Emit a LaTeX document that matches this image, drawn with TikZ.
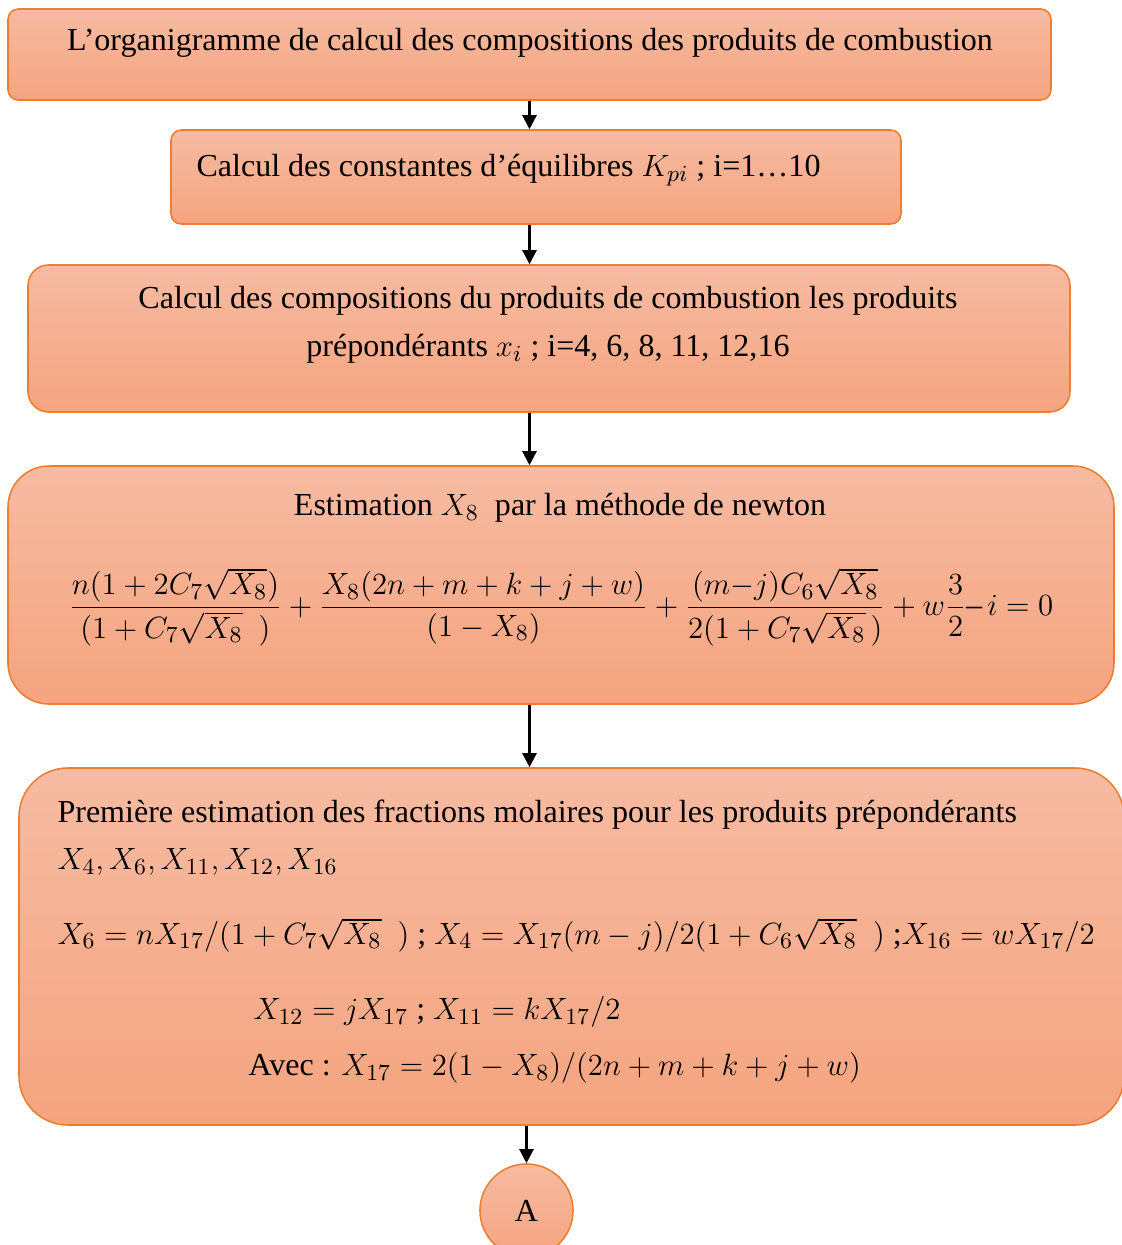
\documentclass[tikz,border=0pt]{standalone}
\usepackage{amsmath}
\usepackage{fontspec}
\setmainfont{Liberation Serif}
\usepackage{tikz}
\usetikzlibrary{arrows.meta, positioning, fit, shapes.geometric}

\definecolor{boxtop}{HTML}{F6BBA2}
\definecolor{boxbottom}{HTML}{F5A47F}
\definecolor{boxline}{HTML}{ED7D31}

\tikzset{
  box/.style={draw=boxline, line width=0.6pt, top color=boxtop, bottom color=boxbottom, inner sep=0pt},
  flow/.style={-{Triangle[width=5.5pt,length=5.5pt]}, line width=0.9pt},
  txt/.style={font=\fontsize{12.5}{15}\selectfont, inner sep=0pt}
}

\begin{document}
\begin{tikzpicture}[x=0.39pt, y=-0.39pt]
\useasboundingbox (0,0) rectangle (1122,1245);
% Boxes
\node[box, rounded corners=4pt, fit={(8,9) (1051,100)}] (org) {};
\node[box, rounded corners=4pt, fit={(171,130) (901,224)}] (kp) {};
\node[box, rounded corners=8pt, fit={(28,265) (1070,412)}] (comp) {};
\node[box, rounded corners=16pt, fit={(8,466) (1114,704)}] (newton) {};
\node[box, rounded corners=19pt, fit={(19,768) (1124,1125)}] (frac) {};
\node[box, circle, minimum size=36.3pt] (endA) at (526.5,1210.5) {};
% Texts
\node[txt] (t1) at (530,43) {L'organigramme de calcul des compositions des produits de combustion};
\node[txt, anchor=west] (t2) at (196,170) {Calcul des constantes d'équilibres $K_{pi}$ ; i=1…10};
\node[txt] (t3) at (548,301) {Calcul des compositions du produits de combustion les produits};
\node[txt] (t4) at (548,349) {prépondérants $x_i$ ; i=4, 6, 8, 11, 12,16};
\node[txt] (t5) at (560,508) {Estimation $X_8$\ \ par la méthode de newton};
\node[txt] (t6) at (561,607) {$\displaystyle \frac{n(1+2C_7\sqrt{X_8})}{(1+C_7\sqrt{X_8}\ \ )}+\frac{X_8(2n+m+k+j+w)}{(1-X_8)}+\frac{(m{-}j)C_6\sqrt{X_8}}{2(1+C_7\sqrt{X_8}\,)}+w\frac{3}{2}\text{--}\,i=0$};
\node[txt, anchor=west] (t7) at (57,815) {Première estimation des fractions molaires pour les produits prépondérants};
\node[txt, anchor=west] (t8) at (57,862) {$X_4, X_6, X_{11}, X_{12}, X_{16}$};
\node[txt, anchor=west] (t9) at (57,935) {$X_6=nX_{17}/(1+C_7\sqrt{X_8}\ \ )$ ; $X_4=X_{17}(m-j)/2(1+C_6\sqrt{X_8}\ \ )$ ;$X_{16}=wX_{17}/2$};
\node[txt, anchor=west] (t10) at (253,1012) {$X_{12}=jX_{17}$ ; $X_{11}=kX_{17}/2$};
\node[txt, anchor=west] (t11) at (248,1068) {Avec : $X_{17}=2(1-X_8)/(2n+m+k+j+w)$};
\node[txt] (tA) at (endA) {A};
% Arrows
\draw[flow] (org.south) -- (org.south |- kp.north);
\draw[flow] (kp.south -| org) -- (comp.north -| org);
\draw[flow] (comp.south -| org) -- (newton.north -| org);
\draw[flow] (newton.south -| org) -- (frac.north -| org);
\draw[flow] (frac.south -| endA) -- (endA.north);
\end{tikzpicture}
\end{document}
